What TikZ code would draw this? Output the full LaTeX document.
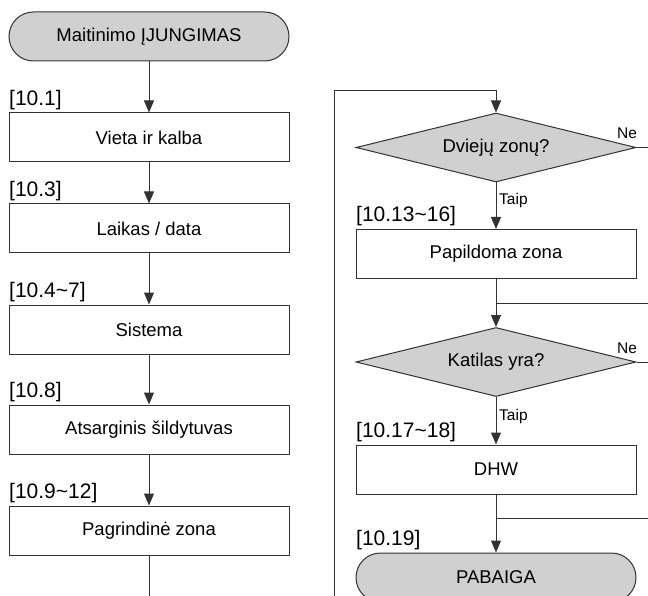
\documentclass[tikz,border=0pt]{standalone}
\usepackage{fontspec}
\setmainfont{Liberation Sans}
\usetikzlibrary{shapes.geometric,arrows.meta}
\definecolor{fillgray}{RGB}{208,208,208}
\definecolor{linecol}{RGB}{50,50,50}
\tikzset{
  base/.style={draw=linecol, line width=1pt, inner sep=0pt, font=\fontsize{18.5}{22}\selectfont},
  procbox/.style={base, rectangle, minimum width=280pt, minimum height=49pt},
  termbox/.style={base, rectangle, rounded corners=24.5pt, fill=fillgray, minimum width=280pt, minimum height=49pt},
  decbox/.style={base, diamond, aspect=4.06, fill=fillgray, minimum width=280pt, minimum height=69pt},
  steplabel/.style={inner sep=0pt, anchor=south west, font=\fontsize{21}{24}\selectfont},
  branchlabel/.style={inner sep=0pt, font=\fontsize{15.5}{18}\selectfont},
  flow/.style={draw=linecol, line width=1pt, -{Triangle[length=12pt,width=10pt]}},
  plain/.style={draw=linecol, line width=1pt}
}
\begin{document}
\begin{tikzpicture}[x=1pt,y=-1pt]
\clip (0,0) rectangle (648,596);
% left column
\node[termbox] (start) at (149,36.5) {Maitinimo ĮJUNGIMAS};
\node[procbox] (b1) at (149,137.5) {Vieta ir kalba};
\node[procbox] (b2) at (149,228.5) {Laikas / data};
\node[procbox] (b3) at (149,329.5) {Sistema};
\node[procbox] (b4) at (149,429.5) {Atsarginis šildytuvas};
\node[procbox] (b5) at (149,530.5) {Pagrindinė zona};
\coordinate (lbot) at (149,597);
\node[steplabel] (l1) at (9,110) {[10.1]};
\node[steplabel] (l2) at (9,201) {[10.3]};
\node[steplabel] (l3) at (9,302) {[10.4\char"7E 7]};
\node[steplabel] (l4) at (9,402) {[10.8]};
\node[steplabel] (l5) at (9,503) {[10.9\char"7E 12]};
\draw[flow] (start) -- (b1);
\draw[flow] (b1) -- (b2);
\draw[flow] (b2) -- (b3);
\draw[flow] (b3) -- (b4);
\draw[flow] (b4) -- (b5);
\draw[plain] (b5) -- (lbot);
% right column
\coordinate (rbot) at (334,597);
\coordinate (rtopl) at (334,91);
\coordinate (rtopr) at (496,91);
\node[decbox] (d1) at (496,147.5) {Dviejų zonų?};
\node[procbox] (b6) at (496,254) {Papildoma zona};
\node[decbox] (d2) at (496,362) {Katilas yra?};
\node[procbox] (b7) at (496,469.5) {DHW};
\node[termbox] (end) at (496,577.5) {PABAIGA};
\node[steplabel] (l6) at (356,226) {[10.13\char"7E 16]};
\node[steplabel] (l7) at (356,442) {[10.17\char"7E 18]};
\node[steplabel] (l8) at (356,550) {[10.19]};
\node[branchlabel, anchor=west] (t1) at (499,200) {Taip};
\node[branchlabel, anchor=west] (t2) at (499,416) {Taip};
\node[branchlabel] (n1) at (627,133) {Ne};
\node[branchlabel] (n2) at (627,348) {Ne};
\coordinate (e1) at (649,147.5);
\coordinate (e2) at (649,362);
\coordinate (j1) at (496,303);
\coordinate (r1) at (649,303);
\coordinate (j2) at (496,518);
\coordinate (r2) at (649,518);
\draw[flow] (rbot) -- (rtopl) -- (rtopr) -- (d1.north);
\draw[flow] (d1.south) -- (b6.north);
\draw[flow] (b6.south) -- (d2.north);
\draw[flow] (d2.south) -- (b7.north);
\draw[flow] (b7.south) -- (end.north);
\draw[plain] (d1.east) -- (e1);
\draw[plain] (d2.east) -- (e2);
\draw[plain] (r1) -- (j1);
\draw[plain] (r2) -- (j2);
\end{tikzpicture}
\end{document}
